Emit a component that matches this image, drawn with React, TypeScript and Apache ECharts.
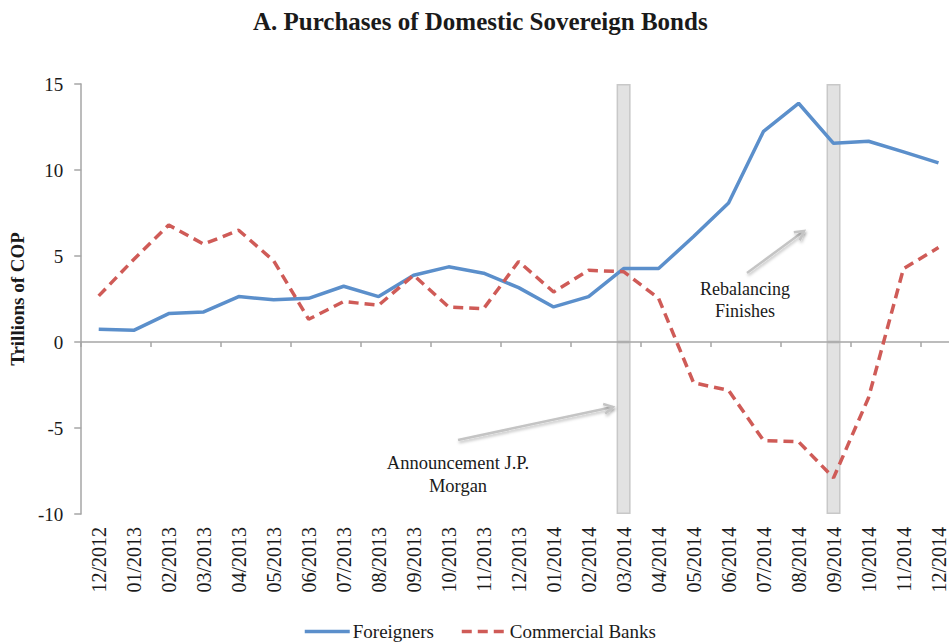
import React, { useEffect, useRef } from "react";
import * as echarts from "echarts";

const months = [
  "12/2012", "01/2013", "02/2013", "03/2013", "04/2013", "05/2013", "06/2013",
  "07/2013", "08/2013", "09/2013", "10/2013", "11/2013", "12/2013", "01/2014",
  "02/2014", "03/2014", "04/2014", "05/2014", "06/2014", "07/2014", "08/2014",
  "09/2014", "10/2014", "11/2014", "12/2014",
];
const foreigners = [
  0.74, 0.68, 1.65, 1.75, 2.64, 2.45, 2.54, 3.24, 2.64, 3.88, 4.37, 4.0, 3.16,
  2.04, 2.64, 4.27, 4.27, 6.13, 8.08, 12.25, 13.88, 11.55, 11.67, 11.05, 10.41,
];
const commercialBanks = [
  2.68, 4.8, 6.8, 5.69, 6.5, 4.72, 1.32, 2.35, 2.14, 3.88, 2.04, 1.94, 4.68,
  2.91, 4.17, 4.09, 2.54, -2.37, -2.81, -5.73, -5.8, -7.9, -3.24, 4.27, 5.49,
];
const shadedMonths = ["03/2014", "09/2014"];
const yMin = -10;
const yMax = 15;
const yStep = 5;

const FONT = "'Liberation Serif', 'Times New Roman', serif";
const TEXT = "#1a1a1a";
const AXIS = "#a6a6a6";

function arrow(x1: number, y1: number, x2: number, y2: number) {
  const dx = x2 - x1;
  const dy = y2 - y1;
  const len = Math.sqrt(dx * dx + dy * dy);
  const ux = dx / len;
  const uy = dy / len;
  const nx = -uy;
  const ny = ux;
  const bx = x2 - 9 * ux;
  const by = y2 - 9 * uy;
  const style = {
    stroke: "#c4c4c4",
    lineWidth: 2.5,
    fill: null,
    shadowBlur: 3,
    shadowColor: "rgba(0,0,0,0.25)",
    shadowOffsetX: 1,
    shadowOffsetY: 2,
  };
  return {
    type: "group",
    children: [
      { type: "line", shape: { x1, y1, x2, y2 }, style },
      {
        type: "polyline",
        shape: {
          points: [
            [bx + 5 * nx, by + 5 * ny],
            [x2, y2],
            [bx - 5 * nx, by - 5 * ny],
          ],
        },
        style,
      },
    ],
  };
}

export default function App() {
  const ref = useRef<HTMLDivElement>(null);

  useEffect(() => {
    if (!ref.current) return;
    const chart = echarts.init(ref.current, null, { renderer: "svg" });
    const shadeTop = months.map((m) => (shadedMonths.includes(m) ? yMax : null));
    const shadeBottom = months.map((m) => (shadedMonths.includes(m) ? yMin : null));
    const shadeStyle = { color: "#e2e2e2", borderColor: "#c8c8c8", borderWidth: 1.5 };

    chart.setOption({
      animation: false,
      backgroundColor: "#ffffff",
      title: {
        text: "A. Purchases of Domestic Sovereign Bonds",
        left: 248,
        top: 4,
        textStyle: { fontFamily: FONT, fontSize: 25, fontWeight: "bold", color: TEXT },
      },
      legend: {
        data: ["Foreigners", "Commercial Banks"],
        left: 298,
        top: 617,
        itemWidth: 45,
        itemHeight: 12,
        itemGap: 26,
        itemStyle: { opacity: 0 },
        lineStyle: { width: 3.5 },
        textStyle: { fontFamily: FONT, fontSize: 19, color: TEXT, padding: [0, 0, 0, -2] },
      },
      grid: { left: 81, top: 84, right: 0, height: 430, containLabel: false },
      xAxis: [
        {
          type: "category",
          data: months,
          position: "bottom",
          boundaryGap: true,
          axisLine: { onZero: true, lineStyle: { color: AXIS, width: 1.5 } },
          axisTick: { show: true, length: 5, inside: false, lineStyle: { color: AXIS, width: 1.5 } },
          axisLabel: { show: false },
          splitLine: { show: false },
          z: 3,
        },
        {
          type: "category",
          data: months,
          position: "bottom",
          boundaryGap: true,
          axisLine: { show: false, onZero: false },
          axisTick: { show: false },
          axisLabel: {
            show: true,
            rotate: 90,
            margin: 13,
            interval: 0,
            fontFamily: FONT,
            fontSize: 20,
            color: TEXT,
          },
          splitLine: { show: false },
        },
      ],
      yAxis: {
        type: "value",
        min: yMin,
        max: yMax,
        interval: yStep,
        name: "Trillions of COP",
        nameLocation: "middle",
        nameGap: 52,
        nameTextStyle: { fontFamily: FONT, fontSize: 19, fontWeight: "bold", color: TEXT },
        axisLine: { show: true, lineStyle: { color: AXIS, width: 1.5 } },
        axisTick: { show: true, length: 7, lineStyle: { color: AXIS, width: 1.5 } },
        axisLabel: { margin: 18, fontFamily: FONT, fontSize: 19, color: TEXT },
        splitLine: { show: false },
        z: 3,
      },
      series: [
        {
          name: "shadeTop",
          type: "bar",
          stack: "shade",
          xAxisIndex: 0,
          data: shadeTop,
          barWidth: 14,
          itemStyle: shadeStyle,
          z: -1,
          silent: true,
        },
        {
          name: "shadeBottom",
          type: "bar",
          stack: "shade",
          xAxisIndex: 0,
          data: shadeBottom,
          barWidth: 14,
          itemStyle: shadeStyle,
          z: -1,
          silent: true,
        },
        {
          name: "Foreigners",
          type: "line",
          xAxisIndex: 0,
          data: foreigners,
          symbol: "none",
          lineStyle: { color: "#5b8fcb", width: 3.5 },
          itemStyle: { color: "#5b8fcb" },
          z: 4,
        },
        {
          name: "Commercial Banks",
          type: "line",
          xAxisIndex: 0,
          data: commercialBanks,
          symbol: "none",
          lineStyle: { color: "#cf5b57", width: 3.5, type: [10, 6] },
          itemStyle: { color: "#cf5b57" },
          z: 5,
        },
      ],
      graphic: [
        arrow(458, 440, 613, 407),
        arrow(747, 273, 804, 231),
        {
          type: "text",
          x: 458,
          y: 451,
          style: {
            text: "Announcement J.P.\nMorgan",
            align: "center",
            verticalAlign: "top",
            fontFamily: FONT,
            fontSize: 18.5,
            lineHeight: 23,
            fill: TEXT,
          },
        },
        {
          type: "text",
          x: 745,
          y: 278,
          style: {
            text: "Rebalancing\nFinishes",
            align: "center",
            verticalAlign: "top",
            fontFamily: FONT,
            fontSize: 18,
            lineHeight: 22,
            fill: TEXT,
          },
        },
      ],
    });
    return () => chart.dispose();
  }, []);

  return (
    <div
      ref={ref}
      style={{ position: "fixed", left: 0, top: 0, width: 956, height: 642, background: "#fff" }}
    />
  );
}
